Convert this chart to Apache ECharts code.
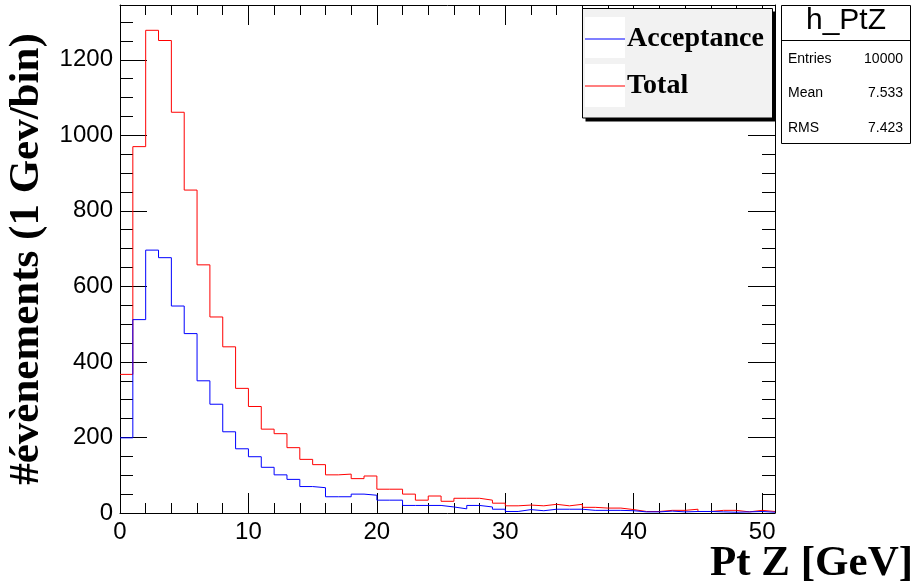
<!DOCTYPE html>
<html>
<head>
<meta charset="utf-8">
<script src="https://cdn.jsdelivr.net/npm/echarts@6/dist/echarts.min.js"></script>
<style>
html,body{margin:0;padding:0;background:#fff;}
#chart{width:919px;height:587px;}
</style>
</head>
<body>
<div id="chart"></div>
<script>
// ---- data (1 GeV bins, lower edges) ----
const ptBins = [0,1,2,3,4,5,6,7,8,9,10,11,12,13,14,15,16,17,18,19,20,21,22,23,24,25,26,27,28,29,30,31,32,33,34,35,36,37,38,39,40,41,42,43,44,45,46,47,48,49,50];
const binUpperEdge = 51;
const totalCounts = [367,970,1278,1251,1061,855,657,519,440,330,282,222,210,173,142,128,101,103,91,98,63,63,50,34,45,31,39,39,34,26,19,21,19,23,19,23,15,13,13,9,4,4,7,7,10,4,7,7,3,7,4];
const acceptanceCounts = [199,512,696,676,548,475,350,288,215,170,149,121,101,89,70,67,43,43,50,47,34,34,20,20,20,16,11,20,16,10,4,9,6,10,10,10,7,7,7,6,3,3,5,3,4,4,3,2,3,4,2];
const seriesNames = ['Acceptance','Total'];
const xTitle = 'Pt Z [GeV]';
const yTitle = '#évènements (1 Gev/bin)';
const statsTitle = 'h_PtZ';
const statsLabels = ['Entries','Mean','RMS'];
const statsValues = ['10000','7.533','7.423'];
const xRange = [0, 51];
const yRange = [0, 1345];

function stepData(counts){
  const d = ptBins.map((x,i)=>[x, counts[i]]);
  d.push([binUpperEdge, counts[counts.length-1]]);
  return d;
}

const chart = echarts.init(document.getElementById('chart'));
const labelFont = {fontFamily:'Liberation Sans', fontSize:24, color:'#000'};
function xAx(pos, interval, len, main){
  return {type:'value', position:pos, min:xRange[0], max:xRange[1], interval:interval,
    axisLine:{show:main, onZero:false, lineStyle:{color:'#000', width:1}},
    axisTick:{show:true, inside:true, length:len, lineStyle:{color:'#000', width:1}},
    axisLabel:{show:(main && pos==='bottom'), showMaxLabel:false, margin:7, formatter:(v)=>String(v), ...labelFont},
    splitLine:{show:false}};
}
function yAx(pos, interval, len, main){
  return {type:'value', position:pos, min:yRange[0], max:yRange[1], interval:interval,
    axisLine:{show:main, onZero:false, lineStyle:{color:'#000', width:1}},
    axisTick:{show:true, inside:true, length:len, lineStyle:{color:'#000', width:1}},
    axisLabel:{show:(main && pos==='left'), showMaxLabel:false, margin:7, formatter:(v)=>String(v), ...labelFont},
    splitLine:{show:false}};
}
const yMain = yAx('left', 200, 27, true);
yMain.name = yTitle;
yMain.nameLocation = 'middle';
yMain.nameGap = 68;
yMain.nameTextStyle = {fontFamily:'Liberation Serif', fontWeight:'bold', fontSize:43, color:'#000'};

const option = {
  animation:false,
  backgroundColor:'#fff',
  grid:{left:120, right:144, top:5, bottom:74, containLabel:false, outerBoundsMode:'none'},
  xAxis:[xAx('bottom',10,20,true), xAx('bottom',2,10,false), xAx('top',10,20,true), xAx('top',2,10,false)],
  yAxis:[yMain, yAx('left',50,13,false), yAx('right',200,27,true), yAx('right',50,13,false)],
  legend:{
    data:seriesNames, orient:'vertical', left:585, top:25, padding:0,
    icon:'rect', itemWidth:40, itemHeight:1, itemGap:19, selectedMode:false, z:10,
    textStyle:{fontFamily:'Liberation Serif', fontWeight:'bold', fontSize:28, lineHeight:28, color:'#000', padding:[0,0,0,-3]}
  },
  graphic:[
    {type:'rect', z:1, shape:{x:585.5, y:11.5, width:190, height:110}, style:{fill:'#000'}},
    {type:'rect', z:1, shape:{x:582.5, y:8.5, width:190, height:109.5}, style:{fill:'#f2f2f2', stroke:'#000', lineWidth:1}},
    {type:'rect', z:2, shape:{x:585, y:17, width:40, height:41}, style:{fill:'#fff'}},
    {type:'rect', z:2, shape:{x:585, y:64, width:40, height:43}, style:{fill:'#fff'}},
    {type:'rect', z:1, shape:{x:781.5, y:5.5, width:129, height:138}, style:{fill:'#fff', stroke:'#000', lineWidth:1}},
    {type:'line', z:2, shape:{x1:781.5, y1:40.5, x2:910.5, y2:40.5}, style:{stroke:'#000', lineWidth:1}},
    {type:'text', z:3, x:846, y:21, style:{text:statsTitle, font:'30px "Liberation Sans"', fill:'#000', align:'center', verticalAlign:'middle'}},
    {type:'text', z:3, x:788, y:59, style:{text:statsLabels[0], font:'14px "Liberation Sans"', fill:'#000', align:'left', verticalAlign:'middle'}},
    {type:'text', z:3, x:788, y:93.5, style:{text:statsLabels[1], font:'14px "Liberation Sans"', fill:'#000', align:'left', verticalAlign:'middle'}},
    {type:'text', z:3, x:788, y:128.5, style:{text:statsLabels[2], font:'14px "Liberation Sans"', fill:'#000', align:'left', verticalAlign:'middle'}},
    {type:'text', z:3, x:903, y:59, style:{text:statsValues[0], font:'14px "Liberation Sans"', fill:'#000', align:'right', verticalAlign:'middle'}},
    {type:'text', z:3, x:903, y:93.5, style:{text:statsValues[1], font:'14px "Liberation Sans"', fill:'#000', align:'right', verticalAlign:'middle'}},
    {type:'text', z:3, x:903, y:128.5, style:{text:statsValues[2], font:'14px "Liberation Sans"', fill:'#000', align:'right', verticalAlign:'middle'}},
    {type:'text', z:3, x:913, y:564, style:{text:xTitle, font:'bold 43px "Liberation Serif"', fill:'#000', align:'right', verticalAlign:'middle'}}
  ],
  series:[
    {name:seriesNames[1], type:'line', step:'end', data:stepData(totalCounts), symbol:'none',
     xAxisIndex:0, yAxisIndex:0, lineStyle:{color:'#ff0000', width:1}, itemStyle:{color:'#ff0000'}, z:2},
    {name:seriesNames[0], type:'line', step:'end', data:stepData(acceptanceCounts), symbol:'none',
     xAxisIndex:0, yAxisIndex:0, lineStyle:{color:'#0000ff', width:1}, itemStyle:{color:'#0000ff'}, z:3}
  ]
};
chart.setOption(option);
</script>
</body>
</html>
